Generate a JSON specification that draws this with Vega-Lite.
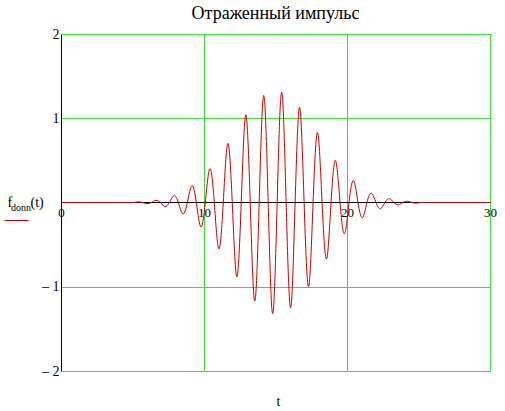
{
  "$schema": "https://vega.github.io/schema/vega-lite/v6.json",
  "width": 429,
  "height": 337,
  "autosize": {"type": "none"},
  "padding": {"left": 61, "top": 34, "right": 15, "bottom": 40},
  "background": "white",
  "title": {"text": "Отраженный импульс", "font": "Liberation Serif", "fontSize": 18, "fontWeight": "normal", "color": "black", "anchor": "middle", "offset": 4},
  "config": {
    "view": {"stroke": null},
    "axis": {"labelFont": "Liberation Serif", "labelFontSize": 13, "labelColor": "black", "titleFont": "Liberation Serif", "titleFontWeight": "normal", "titleColor": "black"}
  },
  "data": {"values": [
    {"t": 0, "v": 0}, {"t": 1, "v": 0}, {"t": 2, "v": 0}, {"t": 3, "v": 0}, {"t": 4, "v": 0}, {"t": 4.6, "v": 0},
    {"t": 5.068, "v": 0}, {"t": 5.382, "v": 0.007}, {"t": 5.696, "v": 0}, {"t": 6.010, "v": -0.014},
    {"t": 6.324, "v": 0}, {"t": 6.638, "v": 0.026}, {"t": 6.952, "v": 0}, {"t": 7.266, "v": -0.047},
    {"t": 7.580, "v": 0}, {"t": 7.894, "v": 0.080}, {"t": 8.208, "v": 0}, {"t": 8.522, "v": -0.135},
    {"t": 8.836, "v": 0}, {"t": 9.150, "v": 0.200}, {"t": 9.464, "v": 0}, {"t": 9.778, "v": -0.290},
    {"t": 10.092, "v": 0}, {"t": 10.406, "v": 0.400}, {"t": 10.720, "v": 0}, {"t": 11.034, "v": -0.550},
    {"t": 11.348, "v": 0}, {"t": 11.662, "v": 0.700}, {"t": 11.976, "v": 0}, {"t": 12.290, "v": -0.880},
    {"t": 12.604, "v": 0}, {"t": 12.918, "v": 1.040}, {"t": 13.232, "v": 0}, {"t": 13.546, "v": -1.170},
    {"t": 13.860, "v": 0}, {"t": 14.174, "v": 1.270}, {"t": 14.488, "v": 0}, {"t": 14.802, "v": -1.320},
    {"t": 15.116, "v": 0}, {"t": 15.430, "v": 1.310}, {"t": 15.744, "v": 0}, {"t": 16.058, "v": -1.250},
    {"t": 16.372, "v": 0}, {"t": 16.686, "v": 1.130}, {"t": 17.000, "v": 0}, {"t": 17.314, "v": -1.000},
    {"t": 17.628, "v": 0}, {"t": 17.942, "v": 0.830}, {"t": 18.256, "v": 0}, {"t": 18.570, "v": -0.670},
    {"t": 18.884, "v": 0}, {"t": 19.198, "v": 0.500}, {"t": 19.512, "v": 0}, {"t": 19.826, "v": -0.370},
    {"t": 20.140, "v": 0}, {"t": 20.454, "v": 0.260}, {"t": 20.768, "v": 0}, {"t": 21.082, "v": -0.180},
    {"t": 21.396, "v": 0}, {"t": 21.710, "v": 0.110}, {"t": 22.024, "v": 0}, {"t": 22.338, "v": -0.075},
    {"t": 22.652, "v": 0}, {"t": 22.966, "v": 0.045}, {"t": 23.280, "v": 0}, {"t": 23.594, "v": -0.027},
    {"t": 23.908, "v": 0}, {"t": 24.222, "v": 0.015}, {"t": 24.536, "v": 0}, {"t": 24.850, "v": -0.008},
    {"t": 25.164, "v": 0}, {"t": 25.6, "v": 0}, {"t": 26, "v": 0}, {"t": 27, "v": 0}, {"t": 28, "v": 0}, {"t": 29, "v": 0}, {"t": 30, "v": 0}
  ]},
  "layer": [
    {
      "mark": {"type": "line", "opacity": 0, "interpolate": "linear"},
      "encoding": {
        "x": {"field": "t", "type": "quantitative", "scale": {"domain": [0, 30], "nice": false, "zero": false},
          "axis": {"orient": "bottom", "values": [10, 20, 30], "grid": true, "gridColor": "#3cdc3c", "gridOpacity": 1, "gridWidth": 1, "domain": false, "ticks": false, "labels": false,
            "title": "t", "titleFont": "Liberation Serif", "titleFontWeight": "normal", "titleColor": "black", "titleX": 217, "titleY": 34, "titleAlign": "center", "titleBaseline": "alphabetic", "titleFontSize": 14}},
        "y": {"field": "v", "type": "quantitative", "scale": {"domain": [-2, 2], "nice": false, "zero": false},
          "axis": {"orient": "left", "values": [-2, -1, 1, 2], "grid": true, "gridColor": "#3cdc3c", "gridOpacity": 1, "gridWidth": 1, "domain": false, "ticks": false, "labels": false,
            "title": "donn", "titleFont": "Liberation Serif", "titleFontWeight": "normal", "titleColor": "black", "titleAngle": 0, "titleX": -50.5, "titleY": 176, "titleAlign": "left", "titleBaseline": "alphabetic", "titleFontSize": 10}}
      }
    },
    {
      "mark": {"type": "line", "opacity": 0, "interpolate": "linear"},
      "encoding": {
        "x": {"field": "t", "type": "quantitative", "scale": {"domain": [0, 30], "nice": false, "zero": false}, "axis": null},
        "y": {"field": "v", "type": "quantitative", "scale": {"domain": [-2, 2], "nice": false, "zero": false},
          "axis": {"orient": "left", "grid": false, "domain": false, "ticks": false, "labels": false,
            "title": "(t)", "titleFont": "Liberation Serif", "titleFontWeight": "normal", "titleColor": "black", "titleAngle": 0, "titleX": -31, "titleY": 172, "titleAlign": "left", "titleBaseline": "alphabetic", "titleFontSize": 14}}
      }
    },
    {
      "mark": {"type": "line", "interpolate": "natural", "strokeWidth": 1},
      "encoding": {
        "x": {"field": "t", "type": "quantitative", "scale": {"domain": [0, 30], "nice": false, "zero": false},
          "axis": {"orient": "bottom", "offset": -169, "values": [0, 10, 20, 30], "grid": false, "ticks": false, "domainColor": "black", "domainWidth": 1, "zindex": 0,
            "labelFont": "Liberation Serif", "labelFontSize": 13, "labelColor": "black",
            "labelAlign": "center", "labelBaseline": "top", "labelDx": 3, "labelPadding": 4, "labelFlush": false, "labelOverlap": false, "title": null}},
        "y": {"field": "v", "type": "quantitative", "scale": {"domain": [-2, 2], "nice": false, "zero": false},
          "axis": {"orient": "left", "values": [-2, -1, 1, 2], "grid": false, "ticks": false, "domainColor": "black", "domainWidth": 1, "zindex": 0,
            "labelFont": "Liberation Serif", "labelFontSize": 14, "labelColor": "black",
            "labelPadding": 2, "labelDy": 1, "labelExpr": "datum.value < 0 ? '– ' + abs(datum.value) : datum.label",
            "title": "f", "titleFont": "Liberation Serif", "titleFontWeight": "normal", "titleColor": "black", "titleAngle": 0, "titleX": -54, "titleY": 172, "titleAlign": "left", "titleBaseline": "alphabetic", "titleFontSize": 14}},
        "color": {"datum": "f", "type": "nominal", "scale": {"range": ["#cc0000"]},
          "legend": {"orient": "none", "legendX": -57, "legendY": 174, "title": null, "labelExpr": "''", "symbolType": "stroke", "symbolSize": 576, "symbolStrokeWidth": 1, "padding": 0, "labelFontSize": 1}}
      }
    }
  ],
  "resolve": {"axis": {"x": "independent", "y": "independent"}}
}
